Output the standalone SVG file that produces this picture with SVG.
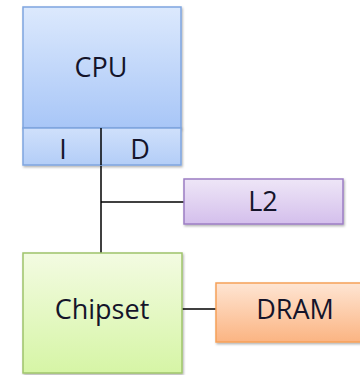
<svg xmlns="http://www.w3.org/2000/svg" width="360" height="375" viewBox="0 0 360 375">
<defs>
<linearGradient id="gCpu" x1="0" y1="0" x2="0" y2="1"><stop offset="0" stop-color="#dce9fd"/><stop offset="1" stop-color="#a8c6f7"/></linearGradient>
<linearGradient id="gCache" x1="0" y1="0" x2="0" y2="1"><stop offset="0" stop-color="#cfe0fb"/><stop offset="1" stop-color="#b3cdf7"/></linearGradient>
<linearGradient id="gL2" x1="0" y1="0" x2="0" y2="1"><stop offset="0" stop-color="#eee6f7"/><stop offset="1" stop-color="#d4bfec"/></linearGradient>
<linearGradient id="gChip" x1="0" y1="0" x2="0" y2="1"><stop offset="0" stop-color="#f3fbe2"/><stop offset="1" stop-color="#d6f5a6"/></linearGradient>
<linearGradient id="gDram" x1="0" y1="0" x2="0" y2="1"><stop offset="0" stop-color="#fee5d3"/><stop offset="1" stop-color="#fbb482"/></linearGradient>
<filter id="sh" x="-10%" y="-10%" width="130%" height="130%"><feDropShadow dx="1" dy="1.5" stdDeviation="1" flood-color="#000" flood-opacity="0.3"/></filter>
</defs>
<style>
text{font-family:"Open Sans","DejaVu Sans",sans-serif;font-size:27px;fill:#14142a;text-anchor:middle;dominant-baseline:central}
.ln{stroke:#000;stroke-width:1.5;fill:none}
.box{stroke-width:1.5;filter:url(#sh)}
</style>
<g id="connectors">
<line class="ln" x1="101" y1="128" x2="101" y2="253"/>
<line class="ln" x1="101" y1="202" x2="184" y2="202"/>
<line class="ln" x1="182" y1="309" x2="216" y2="309"/>
</g>
<g id="cpu">
<rect class="box" x="23" y="7" width="158" height="121" fill="url(#gCpu)" stroke="#7fa5df"/>
<rect class="box" x="23" y="128" width="158" height="37" fill="url(#gCache)" stroke="#7fa5df"/>
<text x="101" y="66">CPU</text>
<line class="ln" x1="101" y1="128" x2="101" y2="165"/>
<text x="63" y="148">I</text>
<text x="140" y="148">D</text>
</g>
<g id="l2">
<rect class="box" x="184" y="179" width="159" height="45" fill="url(#gL2)" stroke="#9c7ec4"/>
<text x="263" y="200">L2</text>
</g>
<g id="chipset">
<rect class="box" x="23" y="253" width="159" height="120" fill="url(#gChip)" stroke="#9fc46b"/>
<text x="102" y="308">Chipset</text>
</g>
<g id="dram">
<rect class="box" x="216" y="283" width="150" height="59" fill="url(#gDram)" stroke="#f6a15a"/>
<text x="295" y="308">DRAM</text>
</g>
</svg>
